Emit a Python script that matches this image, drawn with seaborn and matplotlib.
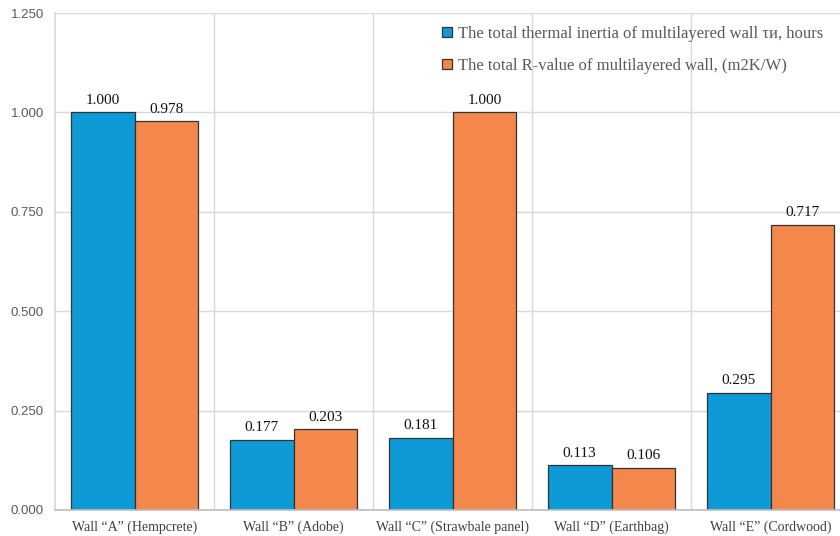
import matplotlib
matplotlib.use("Agg")
import matplotlib.pyplot as plt
import seaborn as sns
import pandas as pd
import numpy as np

categories = ['Wall \u201cA\u201d (Hempcrete)', 'Wall \u201cB\u201d (Adobe)', 'Wall \u201cC\u201d (Strawbale panel)',
              'Wall \u201cD\u201d (Earthbag)', 'Wall \u201cE\u201d (Cordwood)']
inertia = [1.000, 0.177, 0.181, 0.113, 0.295]
rvalue = [0.978, 0.203, 1.000, 0.106, 0.717]
series_names = ['The total thermal inertia of multilayered wall \u03c4\u0438, hours',
                'The total R-value of multilayered wall, (m2K/W)']
yticks = [0.0, 0.25, 0.5, 0.75, 1.0, 1.25]

df = pd.DataFrame({
    'cat': categories * 2,
    'val': inertia + rvalue,
    'series': [series_names[0]] * 5 + [series_names[1]] * 5,
})

sns.set_theme(style="white")
plt.rcParams['font.family'] = ['Liberation Serif', 'DejaVu Serif']

fig = plt.figure(figsize=(8.4, 5.36), dpi=100)
ax = fig.add_axes([55 / 840, 26 / 536, 795 / 840, 497 / 536])

palette = ['#0E9AD7', '#F4874B']
sns.barplot(data=df, x='cat', y='val', hue='series', palette=palette, ax=ax,
            width=0.805, edgecolor='#333333', linewidth=0.9, saturation=1, legend=True)

ax.set_ylim(0, 1.25)
ax.set_xlim(-0.5, 4.5)
ax.set_yticks(yticks)
ax.set_yticklabels([f'{t:.3f}' for t in yticks], family='Liberation Sans', color='#595959', fontsize=9.5)
ax.set_xticks(range(5))
ax.set_xticklabels(categories, family='Liberation Serif', color='#404040', fontsize=10)
ax.tick_params(axis='y', length=0, pad=8)
ax.tick_params(axis='x', length=0, pad=15)
for lbl in ax.get_xticklabels():
    lbl.set_va('baseline')
ax.set_xlabel('')
ax.set_ylabel('')

ax.grid(axis='y', color='#D9D9D9', linewidth=1)
for xv in np.arange(0.5, 4.5, 1.0):
    ax.axvline(xv, color='#D9D9D9', linewidth=1, zorder=0)
ax.set_axisbelow(True)
for s in ['top', 'right']:
    ax.spines[s].set_visible(False)
ax.spines['left'].set_color('#D9D9D9')
ax.spines['bottom'].set_color('#BFBFBF')

for cont in ax.containers:
    ax.bar_label(cont, fmt='%.3f', padding=4, fontsize=11, color='#111111', family='Liberation Serif')

leg = ax.legend(loc='upper left', bbox_to_anchor=((437 - 55) / 795, (497 - 8) / 497), frameon=False,
                prop={'family': 'Liberation Serif', 'size': 12}, handlelength=0.6,
                handleheight=0.6, handletextpad=0.35, labelspacing=0.95, labelcolor='#595959',
                borderaxespad=0, borderpad=0.3)

fig.savefig('out.png', dpi=100)
